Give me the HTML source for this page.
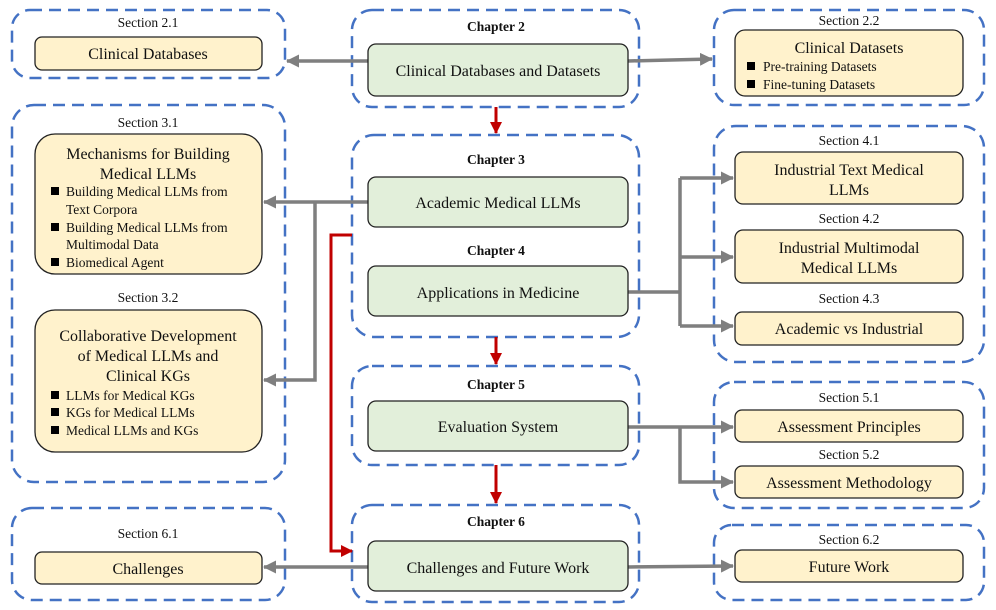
<!DOCTYPE html>
<html><head><meta charset="utf-8"><style>
body{margin:0;background:#fff}
svg{display:block;font-family:"Liberation Serif","Times New Roman",Times,serif}
text{font-family:"Liberation Serif","Times New Roman",Times,serif}
.d{fill:none;stroke:#4472C4;stroke-width:2.5;stroke-dasharray:12 7}
.y{fill:#FFF2CC;stroke:#222;stroke-width:1.3}
.g{fill:#E2EFDA;stroke:#222;stroke-width:1.3}
.a{fill:none;stroke:#7F7F7F;stroke-width:3.5}
.r{fill:none;stroke:#C00000;stroke-width:3}
.s{font-size:13.5px;text-anchor:middle;fill:#111}
.c{font-size:13.5px;font-weight:bold;text-anchor:middle;fill:#111}
.t{font-size:16px;text-anchor:middle;fill:#111}
.b{font-size:13.5px;fill:#111}
</style></head><body>
<svg width="996" height="610" viewBox="0 0 996 610">
<defs>
<marker id="gm" markerWidth="13" markerHeight="13" refX="12" refY="6.5" orient="auto" markerUnits="userSpaceOnUse"><path d="M0,0L13,6.5L0,13z" fill="#7F7F7F"/></marker>
<marker id="rm" markerWidth="12" markerHeight="12" refX="11" refY="6" orient="auto" markerUnits="userSpaceOnUse"><path d="M0,0L12,6L0,12z" fill="#C00000"/></marker>
</defs>
<rect class="d" x="12" y="10" width="273" height="68" rx="18"/>
<rect class="d" x="352" y="10" width="287" height="97" rx="20"/>
<rect class="d" x="714" y="10" width="270" height="95" rx="20"/>
<rect class="d" x="12" y="105" width="273" height="377" rx="22"/>
<rect class="d" x="352" y="135" width="287" height="202" rx="22"/>
<rect class="d" x="714" y="126" width="270" height="236" rx="22"/>
<rect class="d" x="352" y="366" width="287" height="99" rx="20"/>
<rect class="d" x="714" y="382" width="270" height="126" rx="20"/>
<rect class="d" x="12" y="508" width="273" height="92" rx="20"/>
<rect class="d" x="352" y="505" width="287" height="97" rx="20"/>
<rect class="d" x="714" y="525" width="270" height="75" rx="18"/>
<path class="a" d="M368,61H287" marker-end="url(#gm)"/>
<path class="a" d="M628,61L712,59" marker-end="url(#gm)"/>
<path class="a" d="M368,202H264" marker-end="url(#gm)"/>
<path class="a" d="M315,202V380H264" marker-end="url(#gm)"/>
<path class="a" d="M628,292H680"/>
<path class="a" d="M680,178V326"/>
<path class="a" d="M680,178H733" marker-end="url(#gm)"/>
<path class="a" d="M680,257H733" marker-end="url(#gm)"/>
<path class="a" d="M680,326H733" marker-end="url(#gm)"/>
<path class="a" d="M628,427H733" marker-end="url(#gm)"/>
<path class="a" d="M680,427V482H733" marker-end="url(#gm)"/>
<path class="a" d="M368,567H264" marker-end="url(#gm)"/>
<path class="a" d="M628,567L733,566" marker-end="url(#gm)"/>
<path class="r" d="M496,107V133" marker-end="url(#rm)"/>
<path class="r" d="M496,337V364" marker-end="url(#rm)"/>
<path class="r" d="M496,465V503" marker-end="url(#rm)"/>
<path class="r" d="M352,235H331V551H352" marker-end="url(#rm)"/>
<text class="s" x="148" y="27">Section 2.1</text>
<rect class="y" x="35" y="37" width="227" height="33" rx="7"/>
<text class="t" x="148" y="59">Clinical Databases</text>
<text class="c" x="496" y="31">Chapter 2</text>
<rect class="g" x="368" y="44" width="260" height="52" rx="8"/>
<text class="t" x="498" y="76">Clinical Databases and Datasets</text>
<text class="s" x="849" y="25">Section 2.2</text>
<rect class="y" x="735" y="30" width="228" height="66" rx="10"/>
<text class="t" x="849" y="53">Clinical Datasets</text>
<rect x="747" y="62" width="8" height="8" fill="#000"/><text class="b" x="763" y="71">Pre-training Datasets</text>
<rect x="747" y="80" width="8" height="8" fill="#000"/><text class="b" x="763" y="89">Fine-tuning Datasets</text>
<text class="s" x="148" y="127">Section 3.1</text>
<rect class="y" x="35" y="134" width="227" height="140" rx="20"/>
<text class="t" x="148" y="159">Mechanisms for Building</text>
<text class="t" x="148" y="179">Medical LLMs</text>
<rect x="51" y="187" width="8" height="8" fill="#000"/><text class="b" x="66" y="196">Building Medical LLMs from</text>
<text class="b" x="66" y="214">Text Corpora</text>
<rect x="51" y="223" width="8" height="8" fill="#000"/><text class="b" x="66" y="232">Building Medical LLMs from</text>
<text class="b" x="66" y="249">Multimodal Data</text>
<rect x="51" y="258" width="8" height="8" fill="#000"/><text class="b" x="66" y="267">Biomedical Agent</text>
<text class="s" x="148" y="302">Section 3.2</text>
<rect class="y" x="35" y="310" width="227" height="142" rx="20"/>
<text class="t" x="148" y="341">Collaborative Development</text>
<text class="t" x="148" y="361">of Medical LLMs and</text>
<text class="t" x="148" y="381">Clinical KGs</text>
<rect x="51" y="391" width="8" height="8" fill="#000"/><text class="b" x="66" y="400">LLMs for Medical KGs</text>
<rect x="51" y="408" width="8" height="8" fill="#000"/><text class="b" x="66" y="417">KGs for Medical LLMs</text>
<rect x="51" y="426" width="8" height="8" fill="#000"/><text class="b" x="66" y="435">Medical LLMs and KGs</text>
<text class="c" x="496" y="164">Chapter 3</text>
<rect class="g" x="368" y="177" width="260" height="50" rx="8"/>
<text class="t" x="498" y="208">Academic Medical LLMs</text>
<text class="c" x="496" y="255">Chapter 4</text>
<rect class="g" x="368" y="266" width="260" height="50" rx="8"/>
<text class="t" x="498" y="298">Applications in Medicine</text>
<text class="s" x="849" y="145">Section 4.1</text>
<rect class="y" x="735" y="152" width="228" height="52" rx="8"/>
<text class="t" x="849" y="175">Industrial Text Medical</text>
<text class="t" x="849" y="195">LLMs</text>
<text class="s" x="849" y="223">Section 4.2</text>
<rect class="y" x="735" y="230" width="228" height="53" rx="8"/>
<text class="t" x="849" y="253">Industrial Multimodal</text>
<text class="t" x="849" y="273">Medical LLMs</text>
<text class="s" x="849" y="303">Section 4.3</text>
<rect class="y" x="735" y="312" width="228" height="33" rx="7"/>
<text class="t" x="849" y="334">Academic vs Industrial</text>
<text class="c" x="496" y="389">Chapter 5</text>
<rect class="g" x="368" y="401" width="260" height="50" rx="8"/>
<text class="t" x="498" y="432">Evaluation System</text>
<text class="s" x="849" y="402">Section 5.1</text>
<rect class="y" x="735" y="410" width="228" height="32" rx="7"/>
<text class="t" x="849" y="432">Assessment Principles</text>
<text class="s" x="849" y="459">Section 5.2</text>
<rect class="y" x="735" y="466" width="228" height="32" rx="7"/>
<text class="t" x="849" y="488">Assessment Methodology</text>
<text class="s" x="148" y="538">Section 6.1</text>
<rect class="y" x="35" y="552" width="227" height="32" rx="7"/>
<text class="t" x="148" y="574">Challenges</text>
<text class="c" x="496" y="526">Chapter 6</text>
<rect class="g" x="368" y="541" width="260" height="50" rx="8"/>
<text class="t" x="498" y="573">Challenges and Future Work</text>
<text class="s" x="849" y="544">Section 6.2</text>
<rect class="y" x="735" y="550" width="228" height="32" rx="7"/>
<text class="t" x="849" y="572">Future Work</text>
</svg>
</body></html>
